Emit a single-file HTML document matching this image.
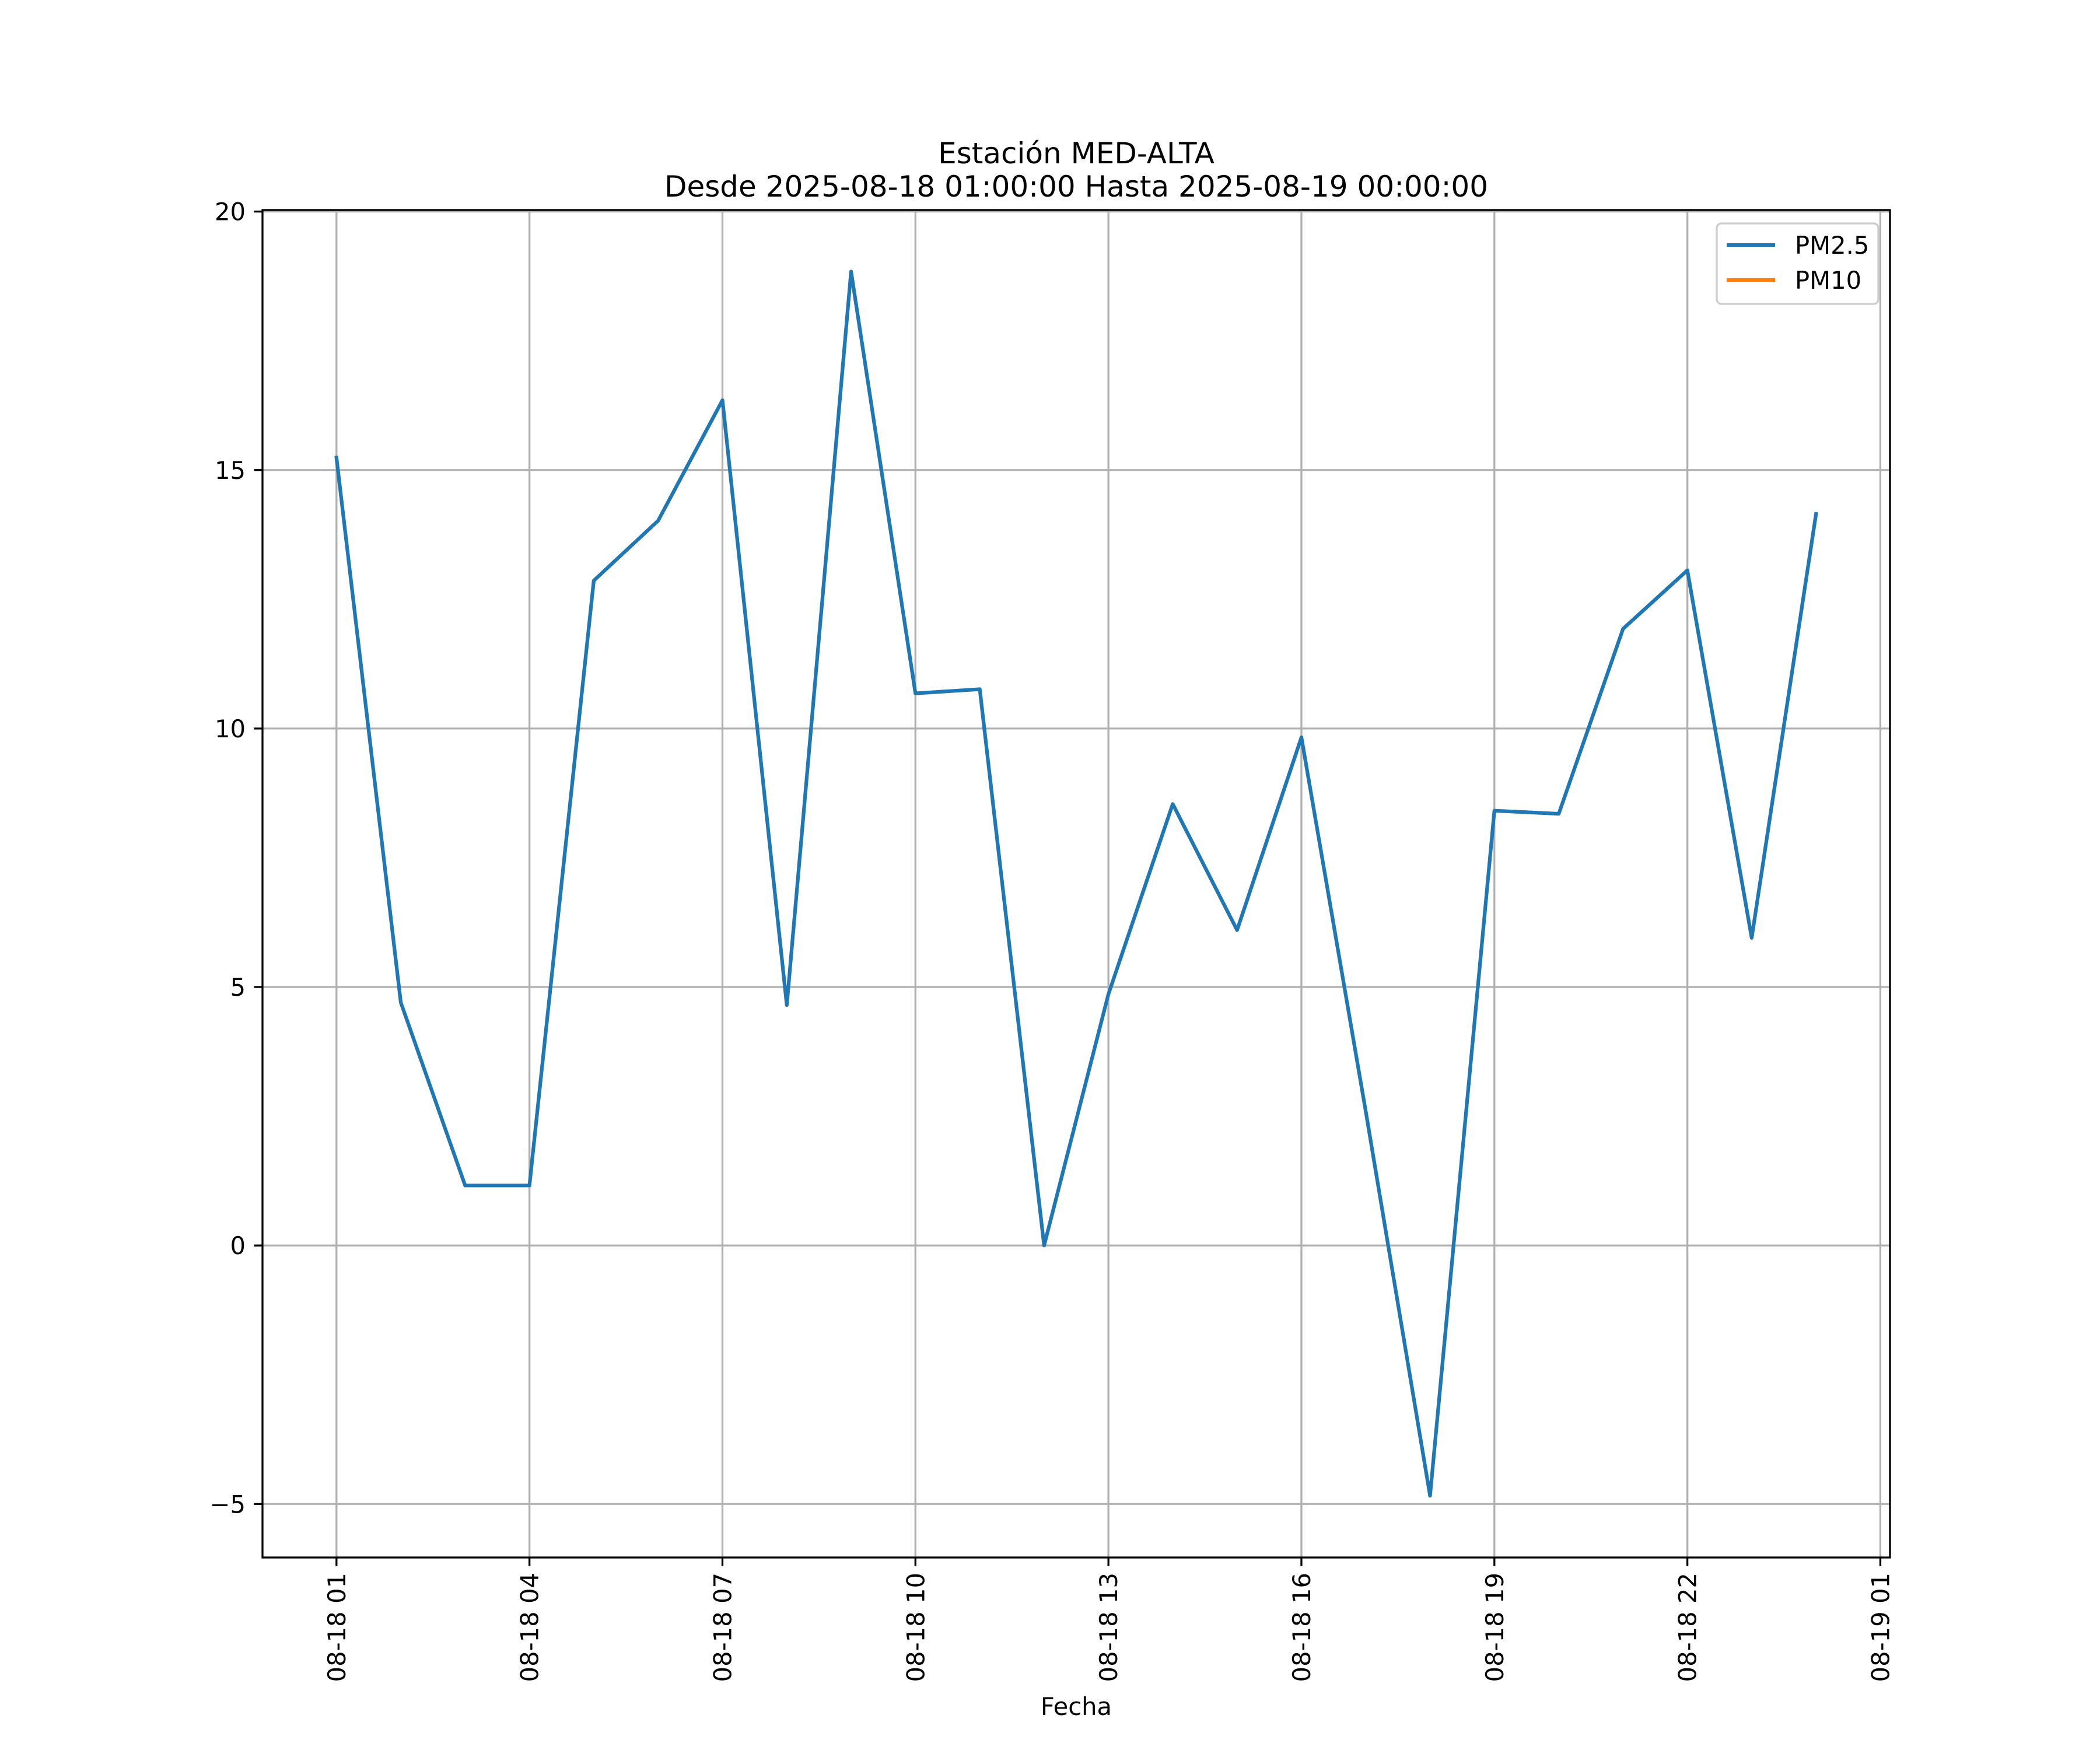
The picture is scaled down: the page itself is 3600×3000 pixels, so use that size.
<!DOCTYPE html>
<html><head><meta charset="utf-8"><style>html,body{margin:0;padding:0;background:#fff}svg{display:block}</style></head>
<body>
<svg id="chart" width="3600" height="3000" xmlns="http://www.w3.org/2000/svg" font-family="'DejaVu Sans','Liberation Sans',sans-serif">
<rect x="0" y="0" width="3600" height="3000" fill="#fff"/>
<text x="1845" y="280" font-size="50" text-anchor="middle">Estación MED-ALTA</text>
<text x="1845" y="337" font-size="50" text-anchor="middle">Desde 2025-08-18 01:00:00 Hasta 2025-08-19 00:00:00</text>
<g id="grid"></g>
<g id="series"></g>
<rect x="450" y="360" width="2790" height="2310" fill="none" stroke="#000" stroke-width="3.3"/>
<g id="ticks"></g>
<text x="1845" y="2940" font-size="41.7" text-anchor="middle">Fecha</text>
<g>
<rect x="2943" y="383" width="277" height="138" rx="8" fill="#fff" fill-opacity="0.8" stroke="#cccccc" stroke-width="3.3"/>
<line x1="2960" y1="420" x2="3043" y2="420" stroke="#1f77b4" stroke-width="6.25"/>
<text x="3077" y="435" font-size="41.7">PM2.5</text>
<line x1="2960" y1="480" x2="3043" y2="480" stroke="#ff7f0e" stroke-width="6.25"/>
<text x="3077" y="495" font-size="41.7">PM10</text>
</g>
</svg>
<script>
const hours = [1,2,3,4,5,6,7,8,9,10,11,12,13,14,15,16,17,18,19,20,21,22,23,24];
const pm25 = [15.24,4.7,1.16,1.16,12.86,14.02,16.35,4.65,18.84,10.68,10.76,0,4.86,8.54,6.1,9.83,2.6,-4.84,8.41,8.35,11.93,13.06,5.95,14.15];
const xTickHours = [1,4,7,10,13,16,19,22,25];
const xTickLabels = ["08-18 01","08-18 04","08-18 07","08-18 10","08-18 13","08-18 16","08-18 19","08-18 22","08-19 01"];
const yTicks = [-5,0,5,10,15,20];
const yTickLabels = ["\u22125","0","5","10","15","20"];

const L=450,R=3240,T=360,B=2670;
const xMin=-0.15,xMax=25.15,yMin=-6.035,yMax=20.03;
const sx=h=>L+(h-xMin)/(xMax-xMin)*(R-L);
const sy=v=>B-(v-yMin)/(yMax-yMin)*(B-T);
const NS="http://www.w3.org/2000/svg";
function mk(tag,attrs,parent){const e=document.createElementNS(NS,tag);for(const k in attrs)e.setAttribute(k,attrs[k]);parent.appendChild(e);return e;}
const grid=document.getElementById('grid'),ticks=document.getElementById('ticks'),series=document.getElementById('series');

xTickHours.forEach((h,i)=>{
  const x=sx(h);
  const g=mk('line',{x1:x,y1:T,x2:x,y2:B,stroke:'#b0b0b0','stroke-width':3.3},grid);
  
  
  const t=mk('line',{x1:x,y1:B,x2:x,y2:B+14.6,stroke:'#000','stroke-width':3.3},ticks);
  
  
  const lb=mk('text',{x:0,y:0,'font-size':41.7,'text-anchor':'end',transform:`translate(${x+15},${B+26}) rotate(-90)`},ticks);
  lb.textContent=xTickLabels[i];
  
  
});
yTicks.forEach((v,i)=>{
  const y=sy(v);
  const g=mk('line',{x1:L,y1:y,x2:R,y2:y,stroke:'#b0b0b0','stroke-width':3.3},grid);
  
  
  const t=mk('line',{x1:L-14.6,y1:y,x2:L,y2:y,stroke:'#000','stroke-width':3.3},ticks);
  
  
  const lb=mk('text',{x:L-29,y:y+15,'font-size':41.7,'text-anchor':'end'},ticks);
  lb.textContent=yTickLabels[i];
  
  
});
const pts=hours.map((h,i)=>sx(h).toFixed(1)+','+sy(pm25[i]).toFixed(1)).join(' ');
const pl=mk('polyline',{points:pts,fill:'none',stroke:'#1f77b4','stroke-width':6.25,'stroke-linejoin':'round','stroke-linecap':'square'},series);


</script>
</body></html>
